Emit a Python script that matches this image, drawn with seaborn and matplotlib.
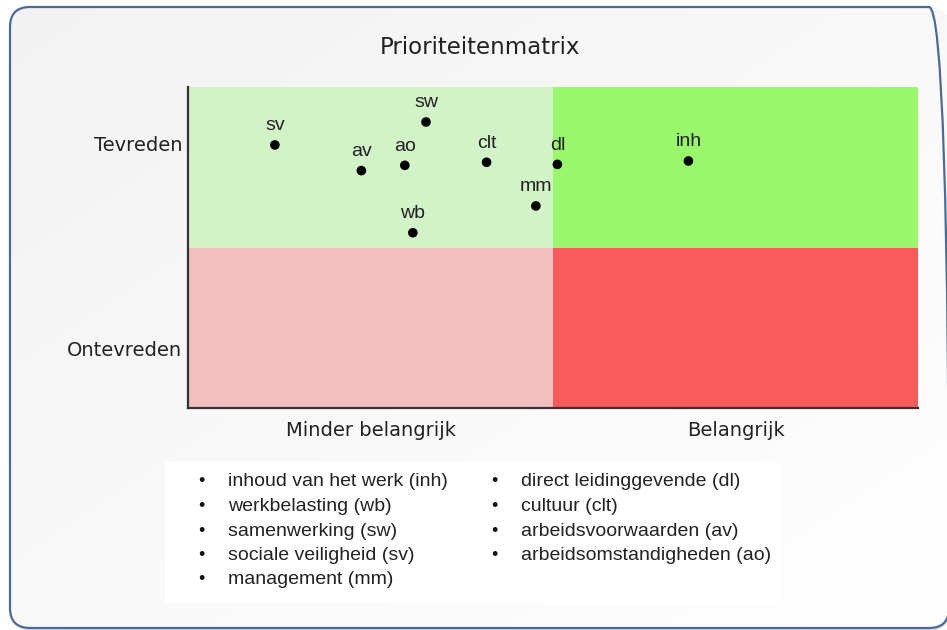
import numpy as np
import pandas as pd
import seaborn as sns
import matplotlib.pyplot as plt
from matplotlib.patches import FancyBboxPatch, Rectangle

# Data: importance (x) and satisfaction (y), 0..2 scale, split at 1
codes = ['inh', 'wb', 'sw', 'sv', 'mm', 'dl', 'clt', 'av', 'ao']
belang = [1.371, 0.616, 0.652, 0.238, 0.953, 1.012, 0.818, 0.475, 0.594]
tevreden = [1.539, 1.092, 1.782, 1.639, 1.259, 1.518, 1.531, 1.479, 1.512]

x_labels = ['Minder belangrijk', 'Belangrijk']
y_labels = ['Ontevreden', 'Tevreden']

legend_col1 = ['inhoud van het werk (inh)', 'werkbelasting (wb)', 'samenwerking (sw)',
               'sociale veiligheid (sv)', 'management (mm)']
legend_col2 = ['direct leidinggevende (dl)', 'cultuur (clt)', 'arbeidsvoorwaarden (av)',
               'arbeidsomstandigheden (ao)']

# quadrant colours: (x-half, y-half) -> colour
quadrants = [(0, 1, '#d2f2c8'), (1, 1, '#99f86c'),
             (0, 0, '#f2bebe'), (1, 0, '#fa5b5b')]

df = pd.DataFrame({'code': codes, 'belang': belang, 'tevreden': tevreden})

sns.set_style('white')
plt.rcParams['font.family'] = ['DejaVu Sans']

W, H = 947, 630
fig = plt.figure(figsize=(W / 100, H / 100), dpi=100)
fig.patch.set_facecolor('white')

# background panel with rounded frame (pixel coordinates)
bg = fig.add_axes([0, 0, 1, 1])
bg.set_zorder(-1)
yy, xx = np.mgrid[0:H, 0:W]
g = (xx / W + yy / H) / 2
val = 0.95 + 0.05 * g
rgb = np.dstack([val, val, val])
box = dict(boxstyle='round,pad=0,rounding_size=20')
shadow = FancyBboxPatch((11, 0), 939, 621, fc='#b0b0b0', ec='none', alpha=0.5, **box)
bg.add_patch(shadow)
panel = FancyBboxPatch((10, 2), 939, 621, fc='none', ec='none', **box)
bg.add_patch(panel)
im = bg.imshow(rgb, extent=(0, W, 0, H), aspect='auto', zorder=1)
im.set_clip_path(panel)
frame = FancyBboxPatch((10, 2), 939, 621, fc='none', ec='#4a6a9a', lw=1.6, zorder=3, **box)
bg.add_patch(frame)

# legend box
bg.add_patch(Rectangle((165, H - 603), 615, 141, fc='white', ec='none', zorder=2))
row_y = [482, 506.5, 531, 555.5, 580]
for i, txt in enumerate(legend_col1):
    bg.text(201, H - row_y[i], '\u2022', ha='center', va='center', fontsize=13,
            family='Liberation Sans', color='#111', zorder=4)
    bg.text(228, H - row_y[i], txt, ha='left', va='center', fontsize=14,
            family='Liberation Sans', color='#222', zorder=4)
for i, txt in enumerate(legend_col2):
    bg.text(494, H - row_y[i], '\u2022', ha='center', va='center', fontsize=13,
            family='Liberation Sans', color='#111', zorder=4)
    bg.text(521, H - row_y[i], txt, ha='left', va='center', fontsize=14,
            family='Liberation Sans', color='#222', zorder=4)
bg.set_xlim(0, W)
bg.set_ylim(0, H)
bg.axis('off')

# title
fig.text(480 / W, 1 - 48 / H, 'Prioriteitenmatrix', ha='center', va='center',
         fontsize=16.5, color='#222')

# matrix
ax = fig.add_axes([188 / W, 1 - 408 / H, 730 / W, 321 / H])
for qx, qy, col in quadrants:
    ax.add_patch(Rectangle((qx, qy), 1, 1, fc=col, ec='none', zorder=0))

sns.scatterplot(data=df, x='belang', y='tevreden', color='black', s=48,
                edgecolor='none', ax=ax, zorder=3, legend=False)
for _, r in df.iterrows():
    ax.annotate(r['code'], (r['belang'], r['tevreden']), xytext=(0, 10.5),
                textcoords='offset points', ha='center', va='baseline',
                fontsize=14, family='Liberation Sans', color='#222', zorder=4)

ax.set_xlim(0, 2)
ax.set_ylim(0, 2)
ax.set_xticks([0.5, 1.5], x_labels)
ax.set_yticks([0.37, 1.645], y_labels)
ax.set_xlabel('')
ax.set_ylabel('')
ax.tick_params(length=0, labelsize=14, colors='#222')
ax.tick_params(axis='x', pad=9)
ax.tick_params(axis='y', pad=4)
sns.despine(ax=ax)
for s in ['left', 'bottom']:
    ax.spines[s].set_color('#333333')
    ax.spines[s].set_linewidth(1.6)

fig.savefig('out.png', dpi=100)
